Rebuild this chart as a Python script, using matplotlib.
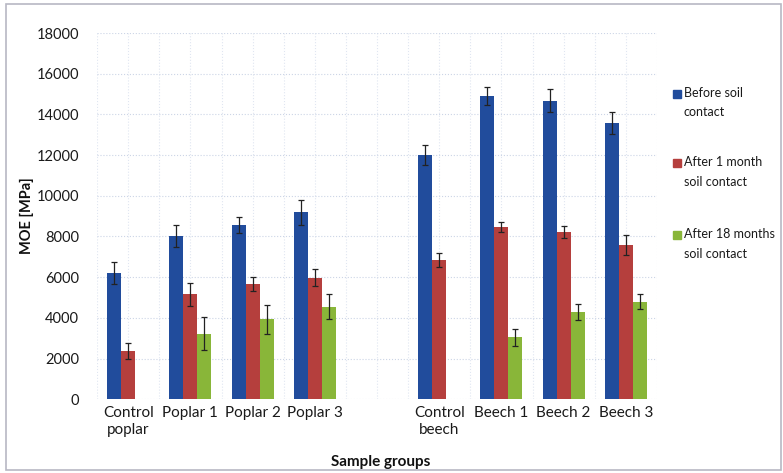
import numpy as np
import matplotlib
matplotlib.use("Agg")
import matplotlib.pyplot as plt
from matplotlib.patches import Rectangle

plt.rcParams["font.family"] = ["Lato", "DejaVu Sans"]

groups = ["Control\npoplar", "Poplar 1", "Poplar 2", "Poplar 3", "",
          "Control\nbeech", "Beech 1", "Beech 2", "Beech 3"]
series = ["Before soil\ncontact", "After 1 month\nsoil contact", "After 18 months\nsoil contact"]

before = [6200, 8030, 8560, 9180, np.nan, 12000, 14920, 14670, 13560]
before_err = [550, 540, 380, 610, np.nan, 480, 450, 560, 540]
month1 = [2370, 5160, 5660, 5980, np.nan, 6840, 8470, 8230, 7570]
month1_err = [400, 575, 360, 410, np.nan, 330, 250, 300, 500]
month18 = [np.nan, 3230, 3920, 4540, np.nan, np.nan, 3040, 4280, 4790]
month18_err = [np.nan, 820, 690, 620, np.nan, np.nan, 420, 390, 360]

colors = ["#214c9c", "#b53f3d", "#89b639"]

W, H = 783, 473
fig = plt.figure(figsize=(W / 100, H / 100), dpi=100)
ax = fig.add_axes([0.124, 0.156, 0.715, 0.774])

x = np.arange(len(groups))
w = 0.225
for i, (vals, errs) in enumerate([(before, before_err), (month1, month1_err), (month18, month18_err)]):
    ax.bar(x + (i - 1) * w, vals, w, color=colors[i], zorder=3,
           yerr=errs, error_kw=dict(ecolor="#222222", elinewidth=0.9, capsize=2.2, capthick=0.9))

ax.set_xlim(-0.5, len(groups) - 0.5)
ax.set_ylim(0, 18000)
ax.set_yticks(np.arange(0, 18001, 2000))
ax.set_xticks(x)
ax.set_xticklabels(groups, fontsize=11, linespacing=1.3, color="#1a1a1a")
ax.tick_params(length=0, pad=5)
ax.tick_params(axis="y", labelsize=10.5, pad=13, labelcolor="#1a1a1a")

# faint dotted grid, vertical lines every half slot
ax.set_axisbelow(True)
ax.grid(axis="y", linestyle=":", color="#ccd5e6", linewidth=0.8)
for gx in np.arange(-0.5, len(groups), 0.5):
    ax.axvline(gx, linestyle=":", color="#e0e6f1", linewidth=0.8, zorder=0)
for s in ax.spines.values():
    s.set_visible(False)

fig.text(27 / W, 1 - 216 / H, "MOE [MPa]", fontsize=10.5, fontweight="bold",
         rotation=90, ha="center", va="center", color="#111111")
fig.text(381 / W, 1 - 462 / H, "Sample groups", fontsize=11, fontweight="bold",
         ha="center", va="center", color="#111111")

# legend: square aligned with the first line of each two-line label
for i, label in enumerate(series):
    ytop = [94, 163, 235][i]
    fig.patches.append(Rectangle((673 / W, 1 - (ytop + 4) / H), 8 / W, 8 / H,
                                 transform=fig.transFigure, color=colors[i]))
    fig.text(684 / W, 1 - (ytop - 7) / H, label, fontsize=9, va="top", ha="left",
             linespacing=1.75, color="#1a1a1a")

# chart area border
fig.patches.append(Rectangle((0.008, 0.006), 0.99, 0.986, transform=fig.transFigure,
                             fill=False, edgecolor="#b8b8c4", linewidth=1.2))

fig.savefig("out.png", dpi=100)
